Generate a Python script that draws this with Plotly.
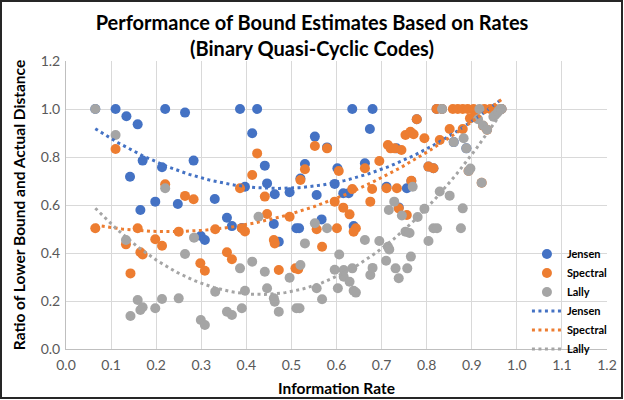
import numpy as np
import plotly.graph_objects as go

# ---------------- data ----------------
jensen_rate = [0.065, 0.11, 0.134, 0.142, 0.159, 0.165, 0.17, 0.198, 0.213, 0.22,
               0.248, 0.264, 0.283, 0.299, 0.308, 0.33, 0.357, 0.368, 0.386, 0.39,
               0.397, 0.413, 0.424, 0.441, 0.446, 0.461, 0.463, 0.472, 0.496, 0.511,
               0.517, 0.52, 0.53, 0.552, 0.556, 0.567, 0.579, 0.596, 0.602, 0.615,
               0.627, 0.635, 0.638, 0.663, 0.674, 0.68, 0.711, 0.733, 0.738, 0.756,
               0.766, 0.778, 0.804, 0.815, 0.822, 0.834, 0.86, 0.888, 0.966]
jensen_ratio = [1.0, 1.0, 0.97, 0.718, 0.936, 0.579, 0.785, 0.614, 0.757, 1.0,
                0.604, 0.985, 0.785, 0.471, 0.454, 0.625, 0.547, 0.512, 1.0, 0.504,
                0.676, 0.899, 1.0, 0.764, 0.69, 0.521, 0.645, 0.447, 0.653, 0.503,
                0.503, 0.71, 0.771, 0.885, 0.642, 0.54, 0.84, 0.688, 0.753, 0.649,
                0.649, 1.0, 0.512, 0.774, 0.917, 1.0, 0.676, 0.836, 0.59, 0.67,
                0.70, 0.957, 0.76, 0.753, 1.0, 1.0, 0.862, 0.836, 1.0]

spectral_rate = [0.065, 0.11, 0.133, 0.143, 0.159, 0.165, 0.17, 0.198, 0.213, 0.22,
                 0.25, 0.264, 0.283, 0.298, 0.308, 0.331, 0.357, 0.368, 0.386, 0.39,
                 0.397, 0.413, 0.424, 0.441, 0.446, 0.461, 0.463, 0.472, 0.496, 0.509,
                 0.515, 0.52, 0.53, 0.552, 0.556, 0.568, 0.579, 0.596, 0.601, 0.605,
                 0.615, 0.629, 0.635, 0.638, 0.643, 0.663, 0.675, 0.679, 0.695, 0.711,
                 0.714, 0.72, 0.729, 0.734, 0.738, 0.744, 0.753, 0.756, 0.764, 0.766,
                 0.771, 0.778, 0.795, 0.804, 0.815, 0.822, 0.829, 0.834, 0.851, 0.858,
                 0.869, 0.88, 0.88, 0.891, 0.893, 0.896, 0.904, 0.906, 0.922, 0.925,
                 0.928, 0.934, 0.941, 0.952, 0.966]
spectral_ratio = [0.503, 0.833, 0.436, 0.315, 0.503, 0.403, 0.394, 0.457, 0.43, 0.686,
                  0.489, 0.638, 0.624, 0.357, 0.326, 0.499, 0.403, 0.374, 0.67, 0.503,
                  0.49, 0.725, 0.815, 0.635, 0.5625, 0.454, 0.44, 0.329, 0.551, 0.336,
                  0.332, 0.704, 0.749, 0.846, 0.499, 0.426, 0.836, 0.614, 0.503, 0.742,
                  0.589, 0.561, 0.667, 0.489, 0.503, 0.753, 0.614, 0.667, 0.783, 0.67,
                  0.85, 0.836, 0.836, 0.67, 0.586, 0.829, 0.892, 0.558, 0.905, 0.701,
                  0.895, 0.957, 0.878, 0.76, 0.753, 1.0, 0.871, 1.0, 0.917, 1.0,
                  1.0, 1.0, 0.917, 1.0, 0.742, 0.961, 1.0, 0.971, 0.693, 0.93,
                  1.0, 0.914, 1.0, 1.0, 1.0]

lally_rate = [0.065, 0.11, 0.133, 0.143, 0.159, 0.165, 0.17, 0.198, 0.213, 0.22,
              0.25, 0.264, 0.284, 0.299, 0.308, 0.331, 0.357, 0.368, 0.386, 0.39,
              0.397, 0.413, 0.427, 0.441, 0.446, 0.461, 0.463, 0.472, 0.496, 0.511,
              0.518, 0.52, 0.53, 0.552, 0.556, 0.568, 0.579, 0.596, 0.603, 0.606,
              0.616, 0.616, 0.629, 0.635, 0.638, 0.643, 0.663, 0.675, 0.68, 0.695,
              0.71, 0.714, 0.717, 0.716, 0.728, 0.731, 0.738, 0.745, 0.753, 0.762,
              0.757, 0.765, 0.769, 0.78, 0.795, 0.804, 0.815, 0.823, 0.829, 0.834,
              0.851, 0.86, 0.876, 0.88, 0.882, 0.888, 0.893, 0.897, 0.914, 0.917,
              0.922, 0.925, 0.934, 0.948, 0.952, 0.959, 0.963, 0.966]
lally_ratio = [1.0, 0.892, 0.454, 0.1375, 0.204, 0.1625, 0.174, 0.17, 0.208, 0.67,
               0.211, 0.396, 0.464, 0.121, 0.1, 0.239, 0.155, 0.142, 0.336, 0.17,
               0.243, 0.364, 0.551, 0.322, 0.253, 0.211, 0.197, 0.155, 0.297, 0.17,
               0.17, 0.35, 0.44, 0.524, 0.253, 0.207, 0.503, 0.33, 0.253, 0.394,
               0.329, 0.301, 0.28, 0.336, 0.243, 0.235, 0.454, 0.308, 0.338, 0.45,
               0.368, 0.426, 0.415, 0.579, 0.614, 0.336, 0.295, 0.556, 0.489, 0.483,
               0.336, 0.385, 0.676, 0.55, 0.584, 0.45, 0.503, 0.503, 0.656, 1.0,
               0.639, 0.862, 0.503, 0.586, 0.878, 0.836, 0.742, 0.752, 0.957, 1.0,
               0.693, 0.931, 0.914, 0.968, 0.975, 0.99, 1.0, 1.0]

series_names = ["Jensen", "Spectral", "Lally"]
series_colors = ["#4472C4", "#ED7D31", "#A5A5A5"]

x_ticks = [round(0.1 * i, 1) for i in range(13)]
y_ticks = [round(0.2 * i, 1) for i in range(7)]

series = [(jensen_rate, jensen_ratio), (spectral_rate, spectral_ratio), (lally_rate, lally_ratio)]
for xs, ys in series:
    assert len(xs) == len(ys), (len(xs), len(ys))

fig = go.Figure()

# scatter markers
for (xs, ys), name, col in zip(series, series_names, series_colors):
    fig.add_trace(go.Scatter(
        x=xs, y=ys, mode="markers", name=name,
        marker=dict(color=col, size=10, line=dict(width=0)),
    ))

# second-order polynomial trendlines (fitted from the data)
for (xs, ys), name, col in zip(series, series_names, series_colors):
    coef = np.polyfit(xs, ys, 2)
    xt = np.linspace(min(xs), max(xs), 200)
    yt = np.polyval(coef, xt)
    fig.add_trace(go.Scatter(
        x=xt, y=yt, mode="lines", name=name,
        line=dict(color=col, width=3, dash="3px,3.5px"),
    ))

W, H = 624, 400
L, R, T, B = 66, 17, 61, 51
pw, ph = W - L - R, H - T - B

fig.update_layout(
    width=W, height=H,
    margin=dict(l=L, r=R, t=T, b=B, pad=0, autoexpand=False),
    paper_bgcolor="white", plot_bgcolor="white",
    font=dict(family="Lato", color="#595959"),
    title=dict(
        text="<b>Performance of Bound Estimates Based on Rates<br>(Binary Quasi-Cyclic Codes)</b>",
        x=0.5, xanchor="center", xref="container",
        y=0.924, yanchor="middle", yref="container",
        font=dict(family="Lato", size=20, color="black"),
        automargin=False,
    ),
    xaxis=dict(
        range=[0, 1.2], tickvals=x_ticks, tickformat=".1f",
        showgrid=True, gridcolor="#D9D9D9", gridwidth=1,
        zeroline=False, showline=True, linecolor="#BFBFBF", linewidth=1,
        ticks="", tickfont=dict(size=14, color="#595959"), ticklabelstandoff=3,
        title=dict(text="<b>Information Rate</b>", font=dict(size=15.5, color="black"), standoff=11),
        automargin=False, fixedrange=True,
    ),
    yaxis=dict(
        range=[0, 1.2], tickvals=y_ticks, tickformat=".1f",
        showgrid=True, gridcolor="#D9D9D9", gridwidth=1,
        zeroline=False, showline=True, linecolor="#BFBFBF", linewidth=1,
        ticks="", tickfont=dict(size=14, color="#595959"), ticklabelstandoff=2,
        title=dict(text="<b>Ratio of Lower Bound and Actual Distance</b>", font=dict(size=15.5, color="black"), standoff=11),
        automargin=False, fixedrange=True,
    ),
    legend=dict(
        x=0.852, y=0.165, xanchor="left", yanchor="middle",
        bgcolor="rgba(0,0,0,0)", borderwidth=0,
        font=dict(family="Lato", size=11, color="black", weight="bold"),
        itemwidth=30, tracegroupgap=0,
    ),
    showlegend=True,
)

# outer chart border
fig.add_shape(
    type="rect", xref="paper", yref="paper",
    x0=(1 - L) / pw, x1=(W - 2 - L) / pw,
    y0=(H - B - (H - 2)) / ph, y1=(H - B - 1) / ph,
    line=dict(color="#262626", width=2), fillcolor="rgba(0,0,0,0)", layer="above",
)

fig.write_html("out.html", config={"displayModeBar": False},
               post_script="document.body.style.margin='0';document.body.style.overflow='hidden';")
